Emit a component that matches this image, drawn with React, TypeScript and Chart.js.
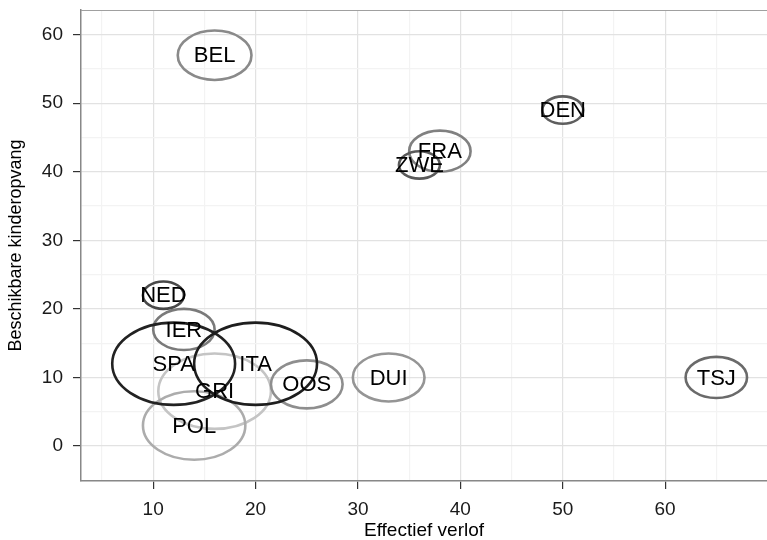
import { useEffect, useRef } from "react";
import { Chart, registerables } from "chart.js";

Chart.register(...registerables);

// landen, getekend van licht naar donker
const landen = ["GRI", "POL", "DUI", "OOS", "BEL", "FRA", "IER", "TSJ", "DEN", "ZWE", "NED", "SPA", "ITA"];
const verlof = [16, 14, 33, 25, 16, 38, 13, 65, 50, 36, 11, 12, 20];
const opvang = [8, 3, 10, 9, 57, 43, 17, 10, 49, 41, 22, 12, 12];
const straal = [5.5, 5, 3.5, 3.5, 3.6, 3, 3, 3, 2, 2, 2, 6, 6];
const kleur = [
  "#c4c4c4", "#acacac", "#959595", "#8e8e8e", "#8a8a8a", "#808080", "#7a7a7a",
  "#6a6a6a", "#5e5e5e", "#5a5a5a", "#484848", "#222222", "#1e1e1e",
];

const xLabels = [10, 20, 30, 40, 50, 60];
const yLabels = [0, 10, 20, 30, 40, 50, 60];

const FONT = '"Liberation Sans", Arial, sans-serif';

const ringen = {
  id: "ringen",
  afterDatasetsDraw(chart: any) {
    const { ctx, chartArea, scales } = chart;
    const meta = chart.getDatasetMeta(0);
    ctx.save();

    // bovenrand van het paneel
    ctx.beginPath();
    ctx.moveTo(chartArea.left, chartArea.top + 0.5);
    ctx.lineTo(chartArea.right, chartArea.top + 0.5);
    ctx.lineWidth = 1;
    ctx.strokeStyle = "#a0a0a0";
    ctx.stroke();

    meta.data.forEach((pt: any, i: number) => {
      const rx = Math.abs(scales.x.getPixelForValue(verlof[i] + straal[i]) - pt.x);
      const ry = Math.abs(scales.y.getPixelForValue(opvang[i] + straal[i]) - pt.y);
      ctx.beginPath();
      ctx.ellipse(pt.x, pt.y, rx, ry, 0, 0, Math.PI * 2);
      ctx.lineWidth = 2.6;
      ctx.strokeStyle = kleur[i];
      ctx.stroke();
    });

    ctx.font = `22px ${FONT}`;
    ctx.fillStyle = "#000";
    ctx.textAlign = "center";
    ctx.textBaseline = "middle";
    meta.data.forEach((pt: any, i: number) => {
      ctx.fillText(landen[i], pt.x, pt.y + 1);
    });
    ctx.restore();
  },
};

const gridColor = (c: any) =>
  Math.round(c.tick.value) % 10 === 0 ? "#e2e2e2" : "#f3f3f3";
const tickColor = (c: any) =>
  Math.round(c.tick.value) % 10 === 0 ? "#333333" : "rgba(0,0,0,0)";

export default function App() {
  const canvasRef = useRef<HTMLCanvasElement | null>(null);
  const chartRef = useRef<Chart | null>(null);

  useEffect(() => {
    const canvas = canvasRef.current;
    if (!canvas) return;

    chartRef.current = new Chart(canvas, {
      type: "scatter",
      data: {
        datasets: [
          {
            label: "landen",
            data: landen.map((_, i) => ({ x: verlof[i], y: opvang[i] })),
            pointRadius: 0,
            pointHoverRadius: 0,
          },
        ],
      },
      options: {
        animation: false,
        responsive: true,
        maintainAspectRatio: false,
        layout: { padding: { top: 10, right: 0, left: 0, bottom: 0 } },
        plugins: {
          legend: { display: false },
          tooltip: { enabled: false },
        },
        scales: {
          x: {
            type: "linear",
            min: 2.95,
            max: 69.95,
            afterFit: (s: any) => {
              s.height = 59;
              s.paddingLeft = 0;
              s.paddingRight = 0;
            },
            border: { color: "#888888", width: 1.5 },
            grid: { color: gridColor, tickColor, tickLength: 8, lineWidth: 1.2 },
            ticks: {
              stepSize: 5,
              includeBounds: false,
              autoSkip: false,
              maxRotation: 0,
              padding: 9,
              color: "#1a1a1a",
              font: { family: FONT, size: 19 },
              callback: (v: any) => (xLabels.includes(Number(v)) ? String(v) : ""),
            },
            title: {
              display: true,
              text: "Effectief verlof",
              color: "#000",
              font: { family: FONT, size: 19, lineHeight: 1 },
              padding: { top: 0, bottom: 0 },
            },
          },
          y: {
            type: "linear",
            min: -5.1,
            max: 63.6,
            afterFit: (s: any) => {
              s.width = 81;
              s.paddingTop = 0;
              s.paddingBottom = 0;
            },
            border: { color: "#888888", width: 1.5 },
            grid: { color: gridColor, tickColor, tickLength: 8, lineWidth: 1.2 },
            ticks: {
              stepSize: 5,
              includeBounds: false,
              autoSkip: false,
              padding: 10,
              color: "#1a1a1a",
              font: { family: FONT, size: 19 },
              callback: (v: any) => (yLabels.includes(Number(v)) ? String(v) : ""),
            },
            title: {
              display: true,
              text: "Beschikbare kinderopvang",
              color: "#000",
              font: { family: FONT, size: 18, lineHeight: 1 },
              padding: { top: 7, bottom: 0 },
            },
          },
        },
      },
      plugins: [ringen],
    });

    return () => {
      if (chartRef.current) {
        chartRef.current.destroy();
        chartRef.current = null;
      }
    };
  }, []);

  return (
    <div style={{ position: "absolute", left: 0, top: 0, width: 767, height: 540, background: "#fff" }}>
      <canvas ref={canvasRef} />
    </div>
  );
}
